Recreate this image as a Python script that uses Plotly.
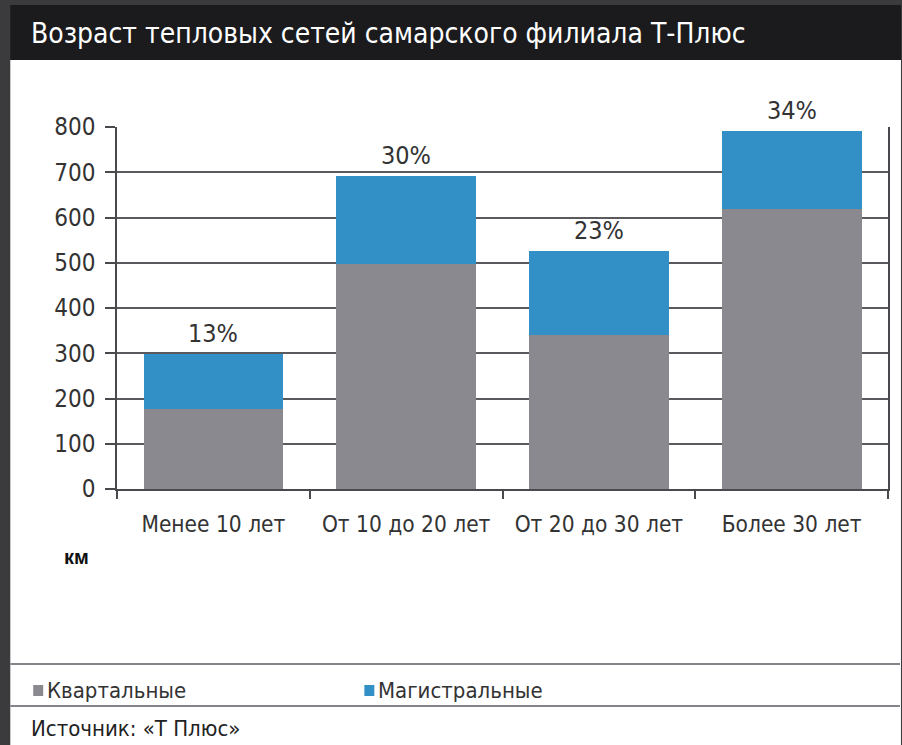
import plotly.graph_objects as go

categories = ["Менее 10 лет", "От 10 до 20 лет", "От 20 до 30 лет", "Более 30 лет"]
kvartalnye = [177, 497, 340, 619]
magistralnye = [121, 195, 186, 172]
shares = ["13%", "30%", "23%", "34%"]
y_ticks = [0, 100, 200, 300, 400, 500, 600, 700, 800]
series_names = ["Квартальные", "Магистральные"]
title_text = "Возраст тепловых сетей самарского филиала Т-Плюс"
unit_text = "км"
source_text = "Источник: «Т Плюс»"

W, H = 902, 745
L, R, T, B = 117, 12, 127, 256
PW, PH = W - L - R, H - T - B

def px(x):
    return (x - L) / PW

def py(y):
    return (H - B - y) / PH

GRAY = "#8a898f"
BLUE = "#3290c6"
NARROW = "DejaVu Sans Condensed, Liberation Sans Narrow, sans-serif"

totals = [a + b for a, b in zip(kvartalnye, magistralnye)]

fig = go.Figure()
fig.add_trace(go.Bar(x=categories, y=kvartalnye, name=series_names[0],
                     marker=dict(color=GRAY, line=dict(width=0)), width=0.725,
                     showlegend=False))
fig.add_trace(go.Bar(x=categories, y=magistralnye, name=series_names[1],
                     marker=dict(color=BLUE, line=dict(width=0)), width=0.725,
                     showlegend=False))

shapes = []
shapes.append(dict(type="rect", xref="paper", yref="paper", x0=px(10), x1=px(903),
                   y0=py(746), y1=py(60), fillcolor="white", line=dict(width=0), layer="below"))
shapes.append(dict(type="rect", xref="paper", yref="paper", x0=px(10), x1=px(903),
                   y0=py(60), y1=py(5), fillcolor="#1b1b1d", line=dict(width=0), layer="below"))
for yy in (664, 706):
    shapes.append(dict(type="line", xref="paper", yref="paper", x0=px(10), x1=px(902),
                       y0=py(yy), y1=py(yy), line=dict(color="#85848a", width=2)))
for x0, col in ((33, GRAY), (365, BLUE)):
    shapes.append(dict(type="rect", xref="paper", yref="paper", x0=px(x0), x1=px(x0 + 10),
                       y0=py(696), y1=py(685), fillcolor=col, line=dict(width=0)))

annotations = [
    dict(text=title_text, xref="paper", yref="paper", x=px(29), y=py(33), xanchor="left",
         yanchor="middle", showarrow=False, font=dict(family=NARROW, size=28, color="white")),
    dict(text="<b>" + unit_text + "</b>", xref="paper", yref="paper", x=px(62), y=py(557),
         xanchor="left", yanchor="middle", showarrow=False,
         font=dict(family="Liberation Sans, Arial, sans-serif", size=20, color="#111111")),
    dict(text=series_names[0], xref="paper", yref="paper", x=px(45), y=py(690), xanchor="left",
         yanchor="middle", showarrow=False, font=dict(family=NARROW, size=22, color="#333333")),
    dict(text=series_names[1], xref="paper", yref="paper", x=px(377), y=py(690), xanchor="left",
         yanchor="middle", showarrow=False, font=dict(family=NARROW, size=22, color="#333333")),
    dict(text=source_text, xref="paper", yref="paper", x=px(29), y=py(728), xanchor="left",
         yanchor="middle", showarrow=False, font=dict(family=NARROW, size=22, color="#222222")),
]
for cat, tot, lab in zip(categories, totals, shares):
    annotations.append(dict(text=lab, x=cat, y=tot, xref="x", yref="y", yanchor="bottom",
                            yshift=4, showarrow=False,
                            font=dict(family=NARROW, size=25, color="#333333")))

fig.update_layout(
    width=W, height=H,
    margin=dict(l=L, r=R, t=T, b=B, pad=0),
    barmode="stack",
    paper_bgcolor="#3b3b3d",
    plot_bgcolor="white",
    shapes=shapes,
    annotations=annotations,
    xaxis=dict(range=[-0.5, 3.5], tickson="boundaries", ticks="outside", ticklen=8,
               tickcolor="#4a4a4e", tickwidth=1.5, showline=True, linecolor="#4a4a4e",
               linewidth=1.5, showgrid=False, ticklabelstandoff=14,
               tickfont=dict(family=NARROW, size=22.5, color="#333333"), fixedrange=True),
    yaxis=dict(range=[0, 800], tickvals=y_ticks, ticks="outside", ticklen=10,
               tickcolor="#4a4a4e", tickwidth=1.5, showline=True, mirror=True,
               linecolor="#4a4a4e", linewidth=1.5, showgrid=True, gridcolor="#5a5a5e",
               gridwidth=1.5, zeroline=False, ticklabelstandoff=5,
               tickfont=dict(family=NARROW, size=24, color="#333333"), fixedrange=True),
    showlegend=False,
)

fig.write_html("out.html", config={"displayModeBar": False},
               post_script="document.body.style.margin='0';document.body.style.background='#3b3b3d';")
